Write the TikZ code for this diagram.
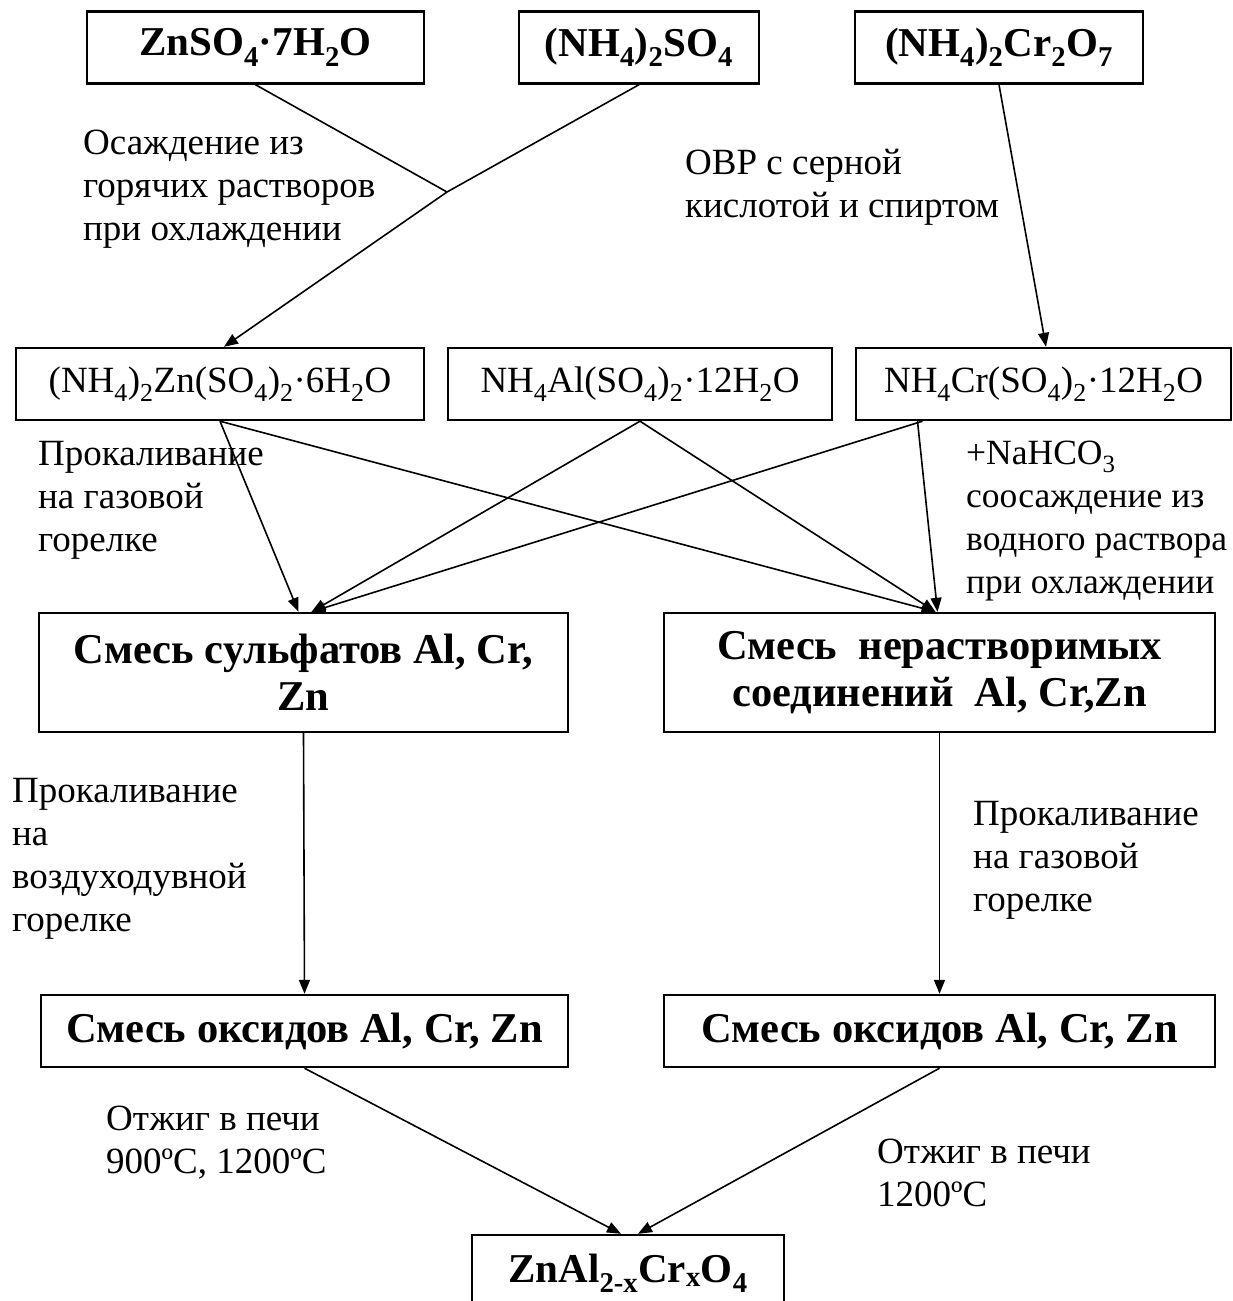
\documentclass[tikz,border=0pt]{standalone}
\usepackage{fontspec}
\setmainfont{Liberation Serif}
\usetikzlibrary{arrows.meta}
\begin{document}
\begin{tikzpicture}[x=1pt,y=-1pt,
  box/.style={draw, line width=2.4pt, inner sep=0pt, minimum height=72pt, align=center},
  topfont/.style={font=\fontsize{41}{47}\selectfont\bfseries},
  bigfont/.style={font=\fontsize{42.5}{47}\selectfont\bfseries},
  regfont/.style={font=\fontsize{37}{43}\selectfont},
  lbl/.style={regfont, align=left, inner sep=0pt, anchor=north west},
  conn/.style={line width=1.6pt},
  arr/.style={conn, -{Triangle[length=14pt,width=11pt]}}]
\useasboundingbox (0,0) rectangle (1233,1301);

% top row
\node[box,topfont,minimum width=337pt] (t1) at (255.5,47.5) {ZnSO\textsubscript{4}·7H\textsubscript{2}O};
\node[box,topfont,minimum width=240pt] (t2) at (639,47.5) {(NH\textsubscript{4})\textsubscript{2}SO\textsubscript{4}};
\node[box,topfont,minimum width=288pt] (t3) at (999,47.5) {(NH\textsubscript{4})\textsubscript{2}Cr\textsubscript{2}O\textsubscript{7}};

% middle row
\node[box,regfont,minimum width=408pt] (mA) at (220,384) {(NH\textsubscript{4})\textsubscript{2}Zn(SO\textsubscript{4})\textsubscript{2}·6H\textsubscript{2}O};
\node[box,regfont,minimum width=384pt] (mB) at (640,384) {NH\textsubscript{4}Al(SO\textsubscript{4})\textsubscript{2}·12H\textsubscript{2}O};
\node[box,regfont,minimum width=375pt] (mC) at (1043.5,384) {NH\textsubscript{4}Cr(SO\textsubscript{4})\textsubscript{2}·12H\textsubscript{2}O};

% mixtures
\node[box,bigfont,minimum width=529pt,minimum height=119pt] (sulf) at (303.5,672.5) {Смесь сульфатов Al, Cr,\\Zn};
\node[box,bigfont,minimum width=551pt,minimum height=119pt] (insol) at (939.5,672.5) {Смесь~ нерастворимых\\соединений~ Al, Cr,Zn};

% oxides
\node[box,bigfont,minimum width=527pt] (ox1) at (304.5,1031) {Смесь оксидов Al, Cr, Zn};
\node[box,bigfont,minimum width=551pt] (ox2) at (939.5,1031) {Смесь оксидов Al, Cr, Zn};

% final (cut off by the lower edge, as in the reference)
\node[box,topfont,minimum width=312pt,minimum height=76pt] (fin) at (628,1273) {ZnAl\textsubscript{2-x}Cr\textsubscript{x}O\textsubscript{4}};

% labels
\node[lbl] (l1) at (83,130) {Осаждение из\\горячих растворов\\при охлаждении};
\node[lbl] (l2) at (685,149) {ОВР с серной\\кислотой и спиртом};
\node[lbl] (l3) at (38,441) {Прокаливание\\на газовой\\горелке};
\node[lbl,font=\fontsize{35.5}{43}\selectfont] (l4) at (966,441) {+NaHCO\textsubscript{3}\\соосаждение из\\водного раствора\\при охлаждении};
\node[lbl] (l5) at (12,778) {Прокаливание\\на\\воздуходувной\\горелке};
\node[lbl] (l6) at (973,801) {Прокаливание\\на газовой\\горелке};
\node[lbl] (l7) at (106,1106) {Отжиг в печи\\900ºC, 1200ºC};
\node[lbl] (l8) at (877,1139) {Отжиг в печи\\1200ºC};

% connectors
\coordinate (J) at (447,192);
\draw[conn] (t1.south) -- (J);
\draw[conn] (t2.south) -- (J);
\draw[arr] (J) -- ([xshift=4pt]mA.north);
\draw[arr] (t3.south) -- ([xshift=2.5pt]mC.north);

\draw[arr] (mA.south) -- ([xshift=-5pt]sulf.north);
\draw[arr] (mA.south) -- ([xshift=-4pt]insol.north);
\draw[arr] (mB.south) -- ([xshift=8pt]sulf.north);
\draw[arr] (mB.south) -- ([xshift=-4pt]insol.north);
\draw[arr] ([xshift=-121pt]mC.south) -- ([xshift=8pt]sulf.north);
\draw[arr] ([xshift=-126pt]mC.south) -- ([xshift=-2pt]insol.north);

\draw[arr] (sulf.south) -- (ox1.north);
\draw[arr] (insol.south) -- (ox2.north);

\draw[arr] (ox1.south) -- ([xshift=-7pt]fin.north);
\draw[arr] (ox2.south) -- ([xshift=10pt]fin.north);
\end{tikzpicture}
\end{document}
